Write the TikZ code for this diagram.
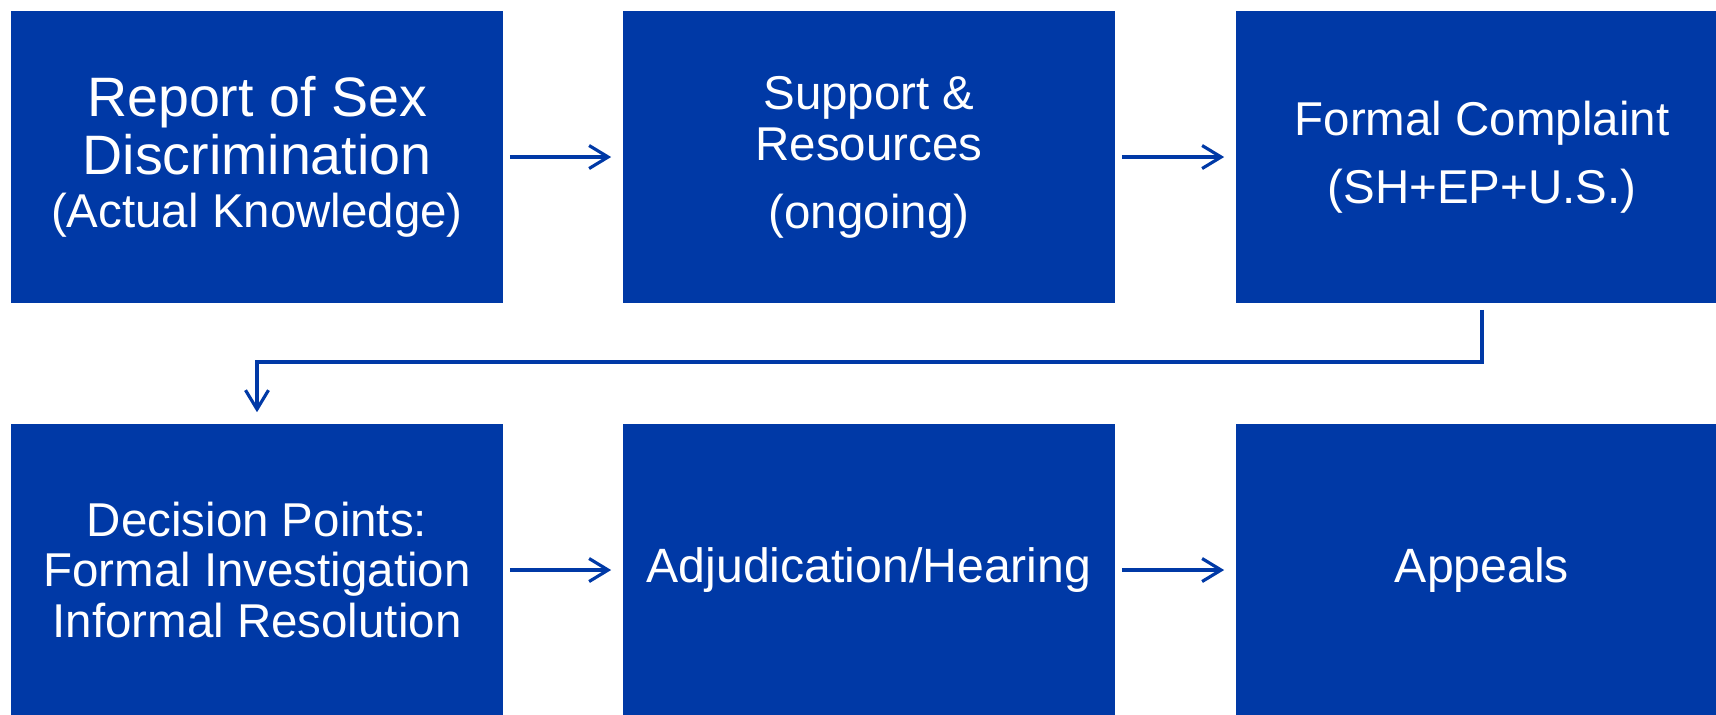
\documentclass[tikz,border=0pt]{standalone}
\usepackage{fontspec}
\setmainfont{Liberation Sans}
\usetikzlibrary{arrows.meta}

\definecolor{stageblue}{HTML}{0039A6}

\tikzset{
  stage/.style={fill=stageblue, text=white, minimum width=4.92cm, minimum height=2.92cm,
    inner sep=0pt, align=center, font=\fontsize{13.5}{14.5}\selectfont},
  flow/.style={draw=stageblue, line width=0.9pt, -{Straight Barb[length=0.19cm,width=0.23cm]},
    shorten <=0.06cm, shorten >=0.11cm}
}

\begin{document}
\begin{tikzpicture}[x=0.01cm,y=-0.01cm]
	\useasboundingbox (0,0) rectangle (1716,714);
	\clip (0,0) rectangle (1716,714);

	% top row
	\node[stage, font=\fontsize{15.8}{16.5}\selectfont] (report) at (257,157)
		{Report of Sex\\Discrimination\\[-1.5pt]{\fontsize{13.5}{14.5}\selectfont(Actual Knowledge)}};
	\node[stage] (support) at (869,157) {Support \&\\Resources\\[4.8pt](ongoing)};
	\node[stage] (complaint) at (1482,157) {Formal Complaint\\[4.8pt](SH+EP+U.S.)};

	% bottom row
	\node[stage] (decision) at (257,570) {Decision Points:\\Formal Investigation\\Informal Resolution};
	\node[stage, font=\fontsize{13.7}{14.5}\selectfont] (hearing) at (869,570) {Adjudication/Hearing};
	\node[stage, font=\fontsize{13.7}{14.5}\selectfont] (appeals) at (1482,570) {Appeals};

	% arrows
	\draw[flow] (report.east) -- (support.west);
	\draw[flow] (support.east) -- (complaint.west);
	\coordinate (turn) at (1482,362);
	\draw[flow] (complaint.south) -- (turn) -| (decision.north);
	\draw[flow] (decision.east) -- (hearing.west);
	\draw[flow] (hearing.east) -- (appeals.west);
\end{tikzpicture}
\end{document}
